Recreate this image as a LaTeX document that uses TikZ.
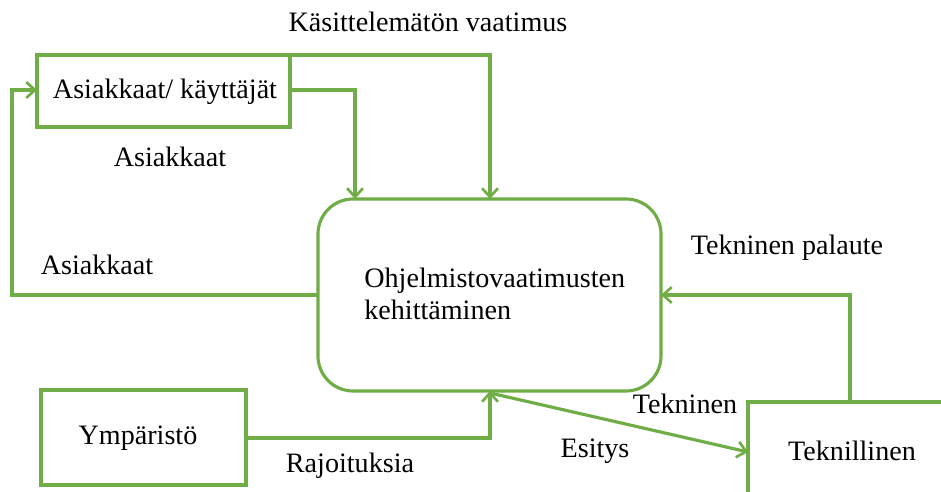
\documentclass[tikz,border=0pt]{standalone}
\usepackage{fontspec}
\setmainfont{Liberation Serif}
\usetikzlibrary{arrows.meta}
\definecolor{flowgreen}{RGB}{112,173,71}
\tikzset{
  box/.style={draw=flowgreen, line width=1.8pt, inner sep=0pt},
  flow/.style={draw=flowgreen, line width=1.8pt, -{Straight Barb[length=5pt,width=9pt,line width=1.5pt]}},
  plainline/.style={draw=flowgreen, line width=1.8pt},
  lbl/.style={font=\fontsize{16}{18}\selectfont, inner sep=0pt}
}
\begin{document}
\begin{tikzpicture}[x=0.02cm,y=-0.02cm]
\useasboundingbox (0,0) rectangle (941,492);
% boxes
\draw[box] (37,55) rectangle (290,127);
\node[lbl] (users) at (165,92) {Asiakkaat/ käyttäjät};
\coordinate (usersR) at (290,90);
\coordinate (usersL) at (37,90);
\coordinate (usersTR) at (290,55);

\draw[box, rounded corners=0.7cm] (318,199) rectangle (661,391);
\node[lbl, align=left, anchor=west] (dev) at (364,294) {Ohjelmistovaatimusten\\kehittäminen};

\draw[box] (41,390) rectangle (246,485);
\node[lbl] (env) at (138,438) {Ympäristö};

\draw[plainline] (748,492) -- (748,402) -- (941,402);
\node[lbl] (tech) at (852,451) {Teknillinen};

% named connection points
\coordinate (devTopA) at (355,199);
\coordinate (devTopB) at (490,199);
\coordinate (devLeft) at (318,295);
\coordinate (devRight) at (661,295);
\coordinate (devBot) at (490,391);
\coordinate (envR) at (246,438);
\coordinate (techL) at (748,452);
\coordinate (techTop) at (850,402);

% connectors
\draw[flow] (usersTR) -- (490,55) -- (devTopB);
\draw[flow] (usersR) -- (355,90) -- (devTopA);
\draw[flow] (devLeft) -- (12,295) -- (12,90) -- (usersL);
\draw[flow] (envR) -- (490,438) -- (devBot);
\draw[flow] (490,393) -- (techL);
\draw[flow] (techTop) -- (850,295) -- (devRight);

% labels
\node[lbl] at (428,22) {Käsittelemätön vaatimus};
\node[lbl] at (170,157) {Asiakkaat};
\node[lbl] at (97,265) {Asiakkaat};
\node[lbl] at (787,248) {Tekninen palaute};
\node[lbl] at (685,404) {Tekninen};
\node[lbl] at (595,451) {Esitys};
\node[lbl] at (350,466) {Rajoituksia};
\end{tikzpicture}
\end{document}
